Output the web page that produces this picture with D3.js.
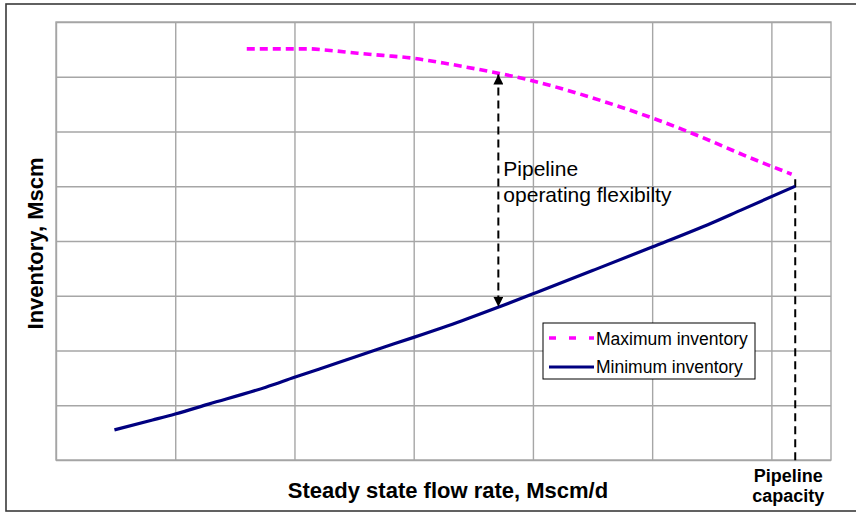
<!DOCTYPE html>
<html>
<head>
<meta charset="utf-8">
<script src="https://cdn.jsdelivr.net/npm/d3@7"></script>
<style>
  html, body { margin: 0; padding: 0; background: #fff; }
  svg { display: block; font-family: "Liberation Sans", Arial, sans-serif; }
</style>
</head>
<body>
<svg id="chart" width="856" height="514"></svg>
<script>
// Steady state flow rate (Mscm/d) vs. pipeline inventory (Mscm)
const maxFlow = [1.60, 2.11, 2.30, 2.53, 2.74, 2.99, 3.25, 3.53, 3.72, 3.95, 4.23, 4.62, 5.01, 5.40, 5.80, 6.17];
const maxInventory = [7.51, 7.51, 7.48, 7.43, 7.39, 7.34, 7.25, 7.14, 7.06, 6.95, 6.79, 6.53, 6.24, 5.91, 5.54, 5.22];

const minFlow = [0.49, 0.81, 1.0, 1.28, 1.76, 2.0, 2.37, 2.68, 3.0, 3.4, 3.72, 4.03, 4.5, 5.0, 5.5, 5.74, 6.2];
const minInventory = [0.55, 0.73, 0.84, 1.02, 1.33, 1.51, 1.78, 2.01, 2.24, 2.54, 2.80, 3.06, 3.46, 3.89, 4.33, 4.56, 5.0];

const xGridTicks = [0, 1, 2, 3, 4, 5, 6];
const yGridTicks = [0, 1, 2, 3, 4, 5, 6, 7, 8];

const seriesNames = ["Maximum inventory", "Minimum inventory"];
const flexLabel = ["Pipeline", "operating flexibilty"];
const capacityLabel = ["Pipeline", "capacity"];
const xTitle = "Steady state flow rate, Mscm/d";
const yTitle = "Inventory, Mscm";

const capacityFlow = 6.2;
const capacityInventory = 5.0;
const flexFlow = 3.71;
const flexTop = 7.04;
const flexBottom = 2.80;

const svg = d3.select("#chart");
const plot = { left: 56, right: 831, top: 22, bottom: 460 };

const x = d3.scaleLinear().domain([0, 6.5]).range([plot.left, plot.right]);
const y = d3.scaleLinear().domain([0, 8]).range([plot.bottom, plot.top]);

// outer frame
svg.append("rect")
  .attr("x", 6).attr("y", 4).attr("width", 870).attr("height", 507)
  .attr("fill", "#fff").attr("stroke", "#3a3a3a").attr("stroke-width", 1.6);

// gridlines via axes with full-length ticks
const gridColor = "#a6a6a6";
svg.append("g")
  .attr("transform", `translate(0,${plot.bottom})`)
  .call(d3.axisBottom(x).tickValues(xGridTicks).tickSize(plot.bottom - plot.top).tickFormat(""))
  .call(g => g.select(".domain").remove())
  .call(g => g.selectAll("line").attr("stroke", gridColor).attr("stroke-width", 1.4)
    .attr("y2", -(plot.bottom - plot.top)));

svg.append("g")
  .attr("transform", `translate(${plot.left},0)`)
  .call(d3.axisLeft(y).tickValues(yGridTicks).tickSize(0).tickFormat(""))
  .call(g => g.select(".domain").remove())
  .call(g => g.selectAll("line").attr("stroke", gridColor).attr("stroke-width", 1.4)
    .attr("x2", plot.right - plot.left));

svg.append("rect")
  .attr("x", plot.left).attr("y", plot.top)
  .attr("width", plot.right - plot.left).attr("height", plot.bottom - plot.top)
  .attr("fill", "none").attr("stroke", gridColor).attr("stroke-width", 1.4);

// capacity marker
svg.append("line")
  .attr("x1", x(capacityFlow)).attr("x2", x(capacityFlow))
  .attr("y1", y(capacityInventory) - 7).attr("y2", plot.bottom + 3)
  .attr("stroke", "#000").attr("stroke-width", 2).attr("stroke-dasharray", "8,5");

// series lines
const line = d3.line().x(d => x(d[0])).y(d => y(d[1])).curve(d3.curveMonotoneX);

svg.append("path")
  .datum(d3.zip(minFlow, minInventory))
  .attr("d", line)
  .attr("fill", "none").attr("stroke", "#000080").attr("stroke-width", 3.2)
  .attr("stroke-linejoin", "round");

svg.append("path")
  .datum(d3.zip(maxFlow, maxInventory))
  .attr("d", line)
  .attr("fill", "none").attr("stroke", "#ff00ff").attr("stroke-width", 3.6)
  .attr("stroke-dasharray", "8,5");

// operating flexibility double arrow
const defs = svg.append("defs");
defs.append("marker")
  .attr("id", "head").attr("viewBox", "0 0 10 10")
  .attr("refX", 10).attr("refY", 5)
  .attr("markerWidth", 5).attr("markerHeight", 5)
  .attr("markerUnits", "strokeWidth")
  .attr("orient", "auto-start-reverse")
  .append("path").attr("d", "M0,0 L10,5 L0,10 Z").attr("fill", "#000");

svg.append("line")
  .attr("x1", x(flexFlow)).attr("x2", x(flexFlow))
  .attr("y1", y(flexTop)).attr("y2", y(flexBottom))
  .attr("stroke", "#000").attr("stroke-width", 2).attr("stroke-dasharray", "8,5")
  .attr("marker-start", "url(#head)").attr("marker-end", "url(#head)");

svg.append("text")
  .attr("x", x(flexFlow) + 5).attr("y", 176)
  .attr("font-size", 21).attr("fill", "#000")
  .selectAll("tspan").data(flexLabel).join("tspan")
  .attr("x", x(flexFlow) + 5).attr("dy", (d, i) => i === 0 ? 0 : 26)
  .text(d => d);

// capacity label
svg.append("text")
  .attr("text-anchor", "middle").attr("font-size", 18).attr("font-weight", "bold")
  .attr("y", 482)
  .selectAll("tspan").data(capacityLabel).join("tspan")
  .attr("x", x(capacityFlow) - 7).attr("dy", (d, i) => i === 0 ? 0 : 20)
  .text(d => d);

// axis titles
svg.append("text")
  .attr("x", 448).attr("y", 498)
  .attr("text-anchor", "middle").attr("font-size", 22).attr("font-weight", "bold")
  .text(xTitle);

svg.append("text")
  .attr("transform", `translate(43,${243.5}) rotate(-90)`)
  .attr("text-anchor", "middle").attr("font-size", 22).attr("font-weight", "bold")
  .text(yTitle);

// legend
const legend = svg.append("g");
legend.append("rect")
  .attr("x", 543).attr("y", 323).attr("width", 212).attr("height", 56)
  .attr("fill", "#fff").attr("stroke", "#000").attr("stroke-width", 1);

const legendRows = [
  { name: seriesNames[0], color: "#ff00ff", dash: "7,13", width: 3.6, yy: 338, ty: 345 },
  { name: seriesNames[1], color: "#000080", dash: null, width: 3.2, yy: 367, ty: 373 }
];
legendRows.forEach(r => {
  legend.append("line")
    .attr("x1", 549).attr("x2", 594).attr("y1", r.yy).attr("y2", r.yy)
    .attr("stroke", r.color).attr("stroke-width", r.width)
    .attr("stroke-dasharray", r.dash);
  legend.append("text")
    .attr("x", 596).attr("y", r.ty).attr("font-size", 17.5).attr("fill", "#000")
    .text(r.name);
});
</script>
</body>
</html>
